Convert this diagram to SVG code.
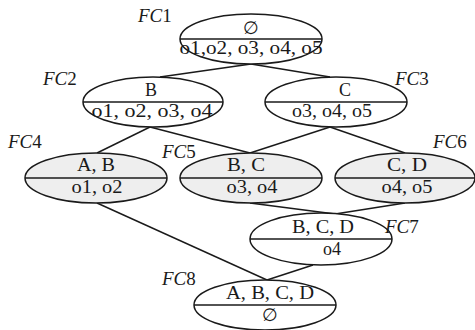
<svg xmlns="http://www.w3.org/2000/svg" width="475" height="330" viewBox="0 0 475 330">
<style>
.n{fill:#fff;stroke:#1a1a1a;stroke-width:1.5}
.s{fill:#eeeeee;stroke:#1a1a1a;stroke-width:1.5}
.d{stroke:#1a1a1a;stroke-width:1.5}
.t{font-family:"Liberation Serif","DejaVu Serif",serif;font-size:18px;fill:#1a1a1a;text-anchor:middle}
.l{font-family:"Liberation Serif","DejaVu Serif",serif;font-size:19px;font-style:italic;fill:#1a1a1a}
.u{font-style:normal}
.c{stroke:#1a1a1a;stroke-width:1.4;fill:none}
</style>
<rect width="475" height="330" fill="#fff"/>
<g id="connectors">
<line class="c" x1="251" y1="64" x2="160" y2="77"/>
<line class="c" x1="251" y1="64" x2="330" y2="77"/>
<line class="c" x1="150" y1="127" x2="97" y2="153"/>
<line class="c" x1="150" y1="127" x2="250" y2="153"/>
<line class="c" x1="330" y1="127" x2="250" y2="153"/>
<line class="c" x1="330" y1="127" x2="405" y2="153"/>
<line class="c" x1="97" y1="203" x2="267" y2="280"/>
<line class="c" x1="250" y1="203" x2="335" y2="214"/>
<line class="c" x1="405" y1="203" x2="335" y2="214"/>
<line class="c" x1="313" y1="265" x2="267" y2="280"/>
</g>
<g id="FC1">
<ellipse class="n" cx="251" cy="39" rx="71" ry="25"/>
<line class="d" x1="180" y1="39" x2="322" y2="39"/>
<text class="t" x="251" y="34">∅</text>
<text class="t" x="251" y="54" textLength="143" lengthAdjust="spacingAndGlyphs">o1,o2, o3, o4, o5</text>
<text class="l" x="138" y="22">FC<tspan class="u">1</tspan></text>
</g>
<g id="FC2">
<ellipse class="n" cx="153" cy="102" rx="70" ry="25"/>
<line class="d" x1="83" y1="102" x2="223" y2="102"/>
<text class="t" x="151" y="96">B</text>
<text class="t" x="152" y="117" textLength="121" lengthAdjust="spacingAndGlyphs">o1, o2, o3, o4</text>
<text class="l" x="43" y="85">FC<tspan class="u">2</tspan></text>
</g>
<g id="FC3">
<ellipse class="n" cx="336" cy="102" rx="71" ry="25"/>
<line class="d" x1="265" y1="102" x2="407" y2="102"/>
<text class="t" x="345" y="96">C</text>
<text class="t" x="332" y="117" textLength="80" lengthAdjust="spacingAndGlyphs">o3, o4, o5</text>
<text class="l" x="395" y="85">FC<tspan class="u">3</tspan></text>
</g>
<g id="FC4">
<ellipse class="s" cx="96" cy="178" rx="71" ry="25"/>
<line class="d" x1="25" y1="178" x2="167" y2="178"/>
<text class="t" x="96" y="171" textLength="38" lengthAdjust="spacingAndGlyphs">A, B</text>
<text class="t" x="97" y="193" textLength="51" lengthAdjust="spacingAndGlyphs">o1, o2</text>
<text class="l" x="8" y="148">FC<tspan class="u">4</tspan></text>
</g>
<g id="FC5">
<ellipse class="s" cx="251" cy="178" rx="71" ry="25"/>
<line class="d" x1="180" y1="178" x2="322" y2="178"/>
<text class="t" x="246" y="171" textLength="38" lengthAdjust="spacingAndGlyphs">B, C</text>
<text class="t" x="252" y="193" textLength="51" lengthAdjust="spacingAndGlyphs">o3, o4</text>
<text class="l" x="162" y="158">FC<tspan class="u">5</tspan></text>
</g>
<g id="FC6">
<ellipse class="s" cx="405" cy="178" rx="70" ry="25"/>
<line class="d" x1="335" y1="178" x2="475" y2="178"/>
<text class="t" x="407" y="171" textLength="40" lengthAdjust="spacingAndGlyphs">C, D</text>
<text class="t" x="407" y="193" textLength="51" lengthAdjust="spacingAndGlyphs">o4, o5</text>
<text class="l" x="433" y="148">FC<tspan class="u">6</tspan></text>
</g>
<g id="FC7">
<ellipse class="n" cx="321" cy="239" rx="71" ry="26"/>
<line class="d" x1="250" y1="239" x2="392" y2="239"/>
<text class="t" x="323" y="233" textLength="62" lengthAdjust="spacingAndGlyphs">B, C, D</text>
<text class="t" x="332" y="255">o4</text>
<text class="l" x="385" y="233">FC<tspan class="u">7</tspan></text>
</g>
<g id="FC8">
<ellipse class="n" cx="265" cy="305" rx="71" ry="25"/>
<line class="d" x1="194" y1="305" x2="336" y2="305"/>
<text class="t" x="270" y="299" textLength="88" lengthAdjust="spacingAndGlyphs">A, B, C, D</text>
<text class="t" x="270" y="321">∅</text>
<text class="l" x="162" y="285">FC<tspan class="u">8</tspan></text>
</g>
</svg>
